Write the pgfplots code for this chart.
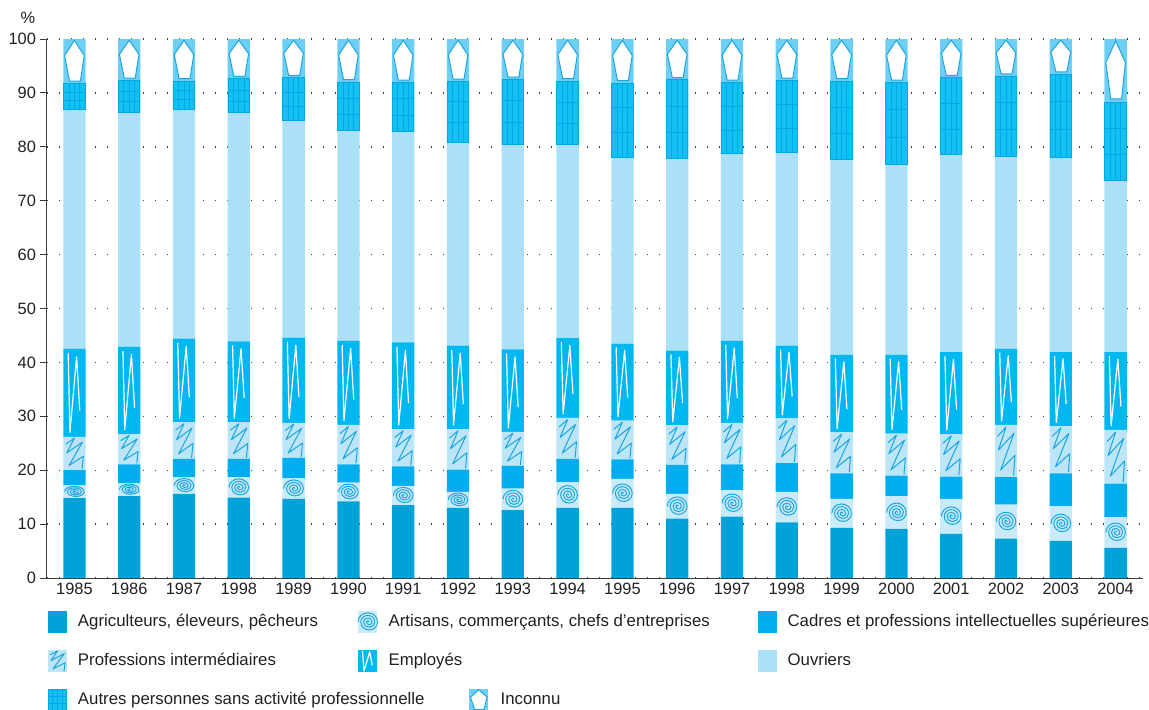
\documentclass[border=0pt]{standalone}
\usepackage{fontspec}
\setmainfont{Liberation Sans}
\usepackage{pgfplots}
\pgfplotsset{compat=1.18}
\usepackage{pgfplotstable}

\definecolor{agri}{HTML}{00A3D9}
\definecolor{artbg}{HTML}{C8EAF9}
\definecolor{cad}{HTML}{00AEEF}
\definecolor{profbg}{HTML}{BCE5F8}
\definecolor{emp}{HTML}{00B8F1}
\definecolor{ouv}{HTML}{ABE0F9}
\definecolor{aut}{HTML}{13C0F2}
\definecolor{gridc}{HTML}{00A8E6}
\definecolor{inc}{HTML}{6DCFF6}
\definecolor{iconblue}{HTML}{1BA6E2}
\definecolor{textc}{HTML}{231F20}
\definecolor{axisgray}{HTML}{3C3C3C}

\newdimen\barW \barW=11.15pt
\newdimen\segH
\newdimen\spx
\newdimen\spy
\def\setsegH{\pgfmathsetlength\segH{2.695*\segh}}

\pgfdeclareplotmark{spiral}{%
  \pgfscope
  \setsegH
  \spy=0.42\segH \ifdim\spy>4.7pt \spy=4.7pt\fi
  \divide\spy by 7
  \spx=0.7pt
  \pgfsetstrokecolor{iconblue}\pgfsetlinewidth{0.5pt}%
  \pgfpathmoveto{\pgfqpoint{\spx}{0pt}}%
  \pgfpatharc{0}{180}{1*\spx and 1*\spy}%
  \pgfpatharc{180}{360}{2*\spx and 2*\spy}%
  \pgfpatharc{0}{180}{3*\spx and 3*\spy}%
  \pgfpatharc{180}{360}{4*\spx and 4*\spy}%
  \pgfpatharc{0}{180}{5*\spx and 5*\spy}%
  \pgfpatharc{180}{360}{6*\spx and 6*\spy}%
  \pgfpatharc{0}{180}{7*\spx and 7*\spy}%
  \pgfusepathqstroke
  \endpgfscope}

\pgfdeclareplotmark{profzz}{%
  \pgfscope
  \setsegH
  \pgfsetstrokecolor{iconblue}\pgfsetlinewidth{0.5pt}\pgfsetroundjoin
  \pgfpathmoveto{\pgfqpoint{-0.38\barW}{0.28\segH}}%
  \pgfpathlineto{\pgfqpoint{0.0\barW}{0.46\segH}}%
  \pgfpathlineto{\pgfqpoint{-0.34\barW}{0.02\segH}}%
  \pgfpathlineto{\pgfqpoint{0.36\barW}{0.34\segH}}%
  \pgfpathlineto{\pgfqpoint{-0.24\barW}{-0.36\segH}}%
  \pgfpathlineto{\pgfqpoint{0.4\barW}{-0.08\segH}}%
  \pgfpathlineto{\pgfqpoint{0.34\barW}{-0.47\segH}}%
  \pgfusepathqstroke
  \endpgfscope}

\pgfdeclareplotmark{empzz}{%
  \pgfscope
  \setsegH
  \pgfsetstrokecolor{white}\pgfsetlinewidth{0.6pt}\pgfsetroundjoin
  \pgfpathmoveto{\pgfqpoint{-0.28\barW}{0.45\segH}}%
  \pgfpathlineto{\pgfqpoint{-0.2\barW}{-0.45\segH}}%
  \pgfpathlineto{\pgfqpoint{0.1\barW}{0.41\segH}}%
  \pgfpathlineto{\pgfqpoint{0.24\barW}{-0.2\segH}}%
  \pgfusepathqstroke
  \endpgfscope}

\pgfdeclareplotmark{grid4}{%
  \pgfscope
  \setsegH
  \pgfsetstrokecolor{gridc}\pgfsetlinewidth{0.5pt}%
  \pgfpathrectangle{\pgfqpoint{-0.48\barW}{-0.5\segH}}{\pgfqpoint{0.96\barW}{\segH}}%
  \pgfpathmoveto{\pgfqpoint{-0.24\barW}{-0.5\segH}}\pgfpathlineto{\pgfqpoint{-0.24\barW}{0.5\segH}}%
  \pgfpathmoveto{\pgfqpoint{0pt}{-0.5\segH}}\pgfpathlineto{\pgfqpoint{0pt}{0.5\segH}}%
  \pgfpathmoveto{\pgfqpoint{0.24\barW}{-0.5\segH}}\pgfpathlineto{\pgfqpoint{0.24\barW}{0.5\segH}}%
  \pgfpathmoveto{\pgfqpoint{-0.48\barW}{-0.1667\segH}}\pgfpathlineto{\pgfqpoint{0.48\barW}{-0.1667\segH}}%
  \pgfpathmoveto{\pgfqpoint{-0.48\barW}{0.1667\segH}}\pgfpathlineto{\pgfqpoint{0.48\barW}{0.1667\segH}}%
  \pgfusepathqstroke
  \endpgfscope}

\pgfdeclareplotmark{pent}{%
  \pgfscope
  \setsegH
  \pgfsetstrokecolor{iconblue}\pgfsetfillcolor{white}\pgfsetlinewidth{0.5pt}\pgfsetmiterjoin
  \pgfpathmoveto{\pgfqpoint{0pt}{0.47\segH}}%
  \pgfpathlineto{\pgfqpoint{0.44\barW}{0.13\segH}}%
  \pgfpathlineto{\pgfqpoint{0.27\barW}{-0.44\segH}}%
  \pgfpathlineto{\pgfqpoint{-0.22\barW}{-0.44\segH}}%
  \pgfpathlineto{\pgfqpoint{-0.44\barW}{0.13\segH}}%
  \pgfpathclose
  \pgfusepath{fill,stroke}%
  \endpgfscope}

\newcommand\legicon[1]{\begingroup\barW=9.5pt\def\segh{4.08}\pgftransformshift{\pgfqpoint{4.75pt}{0pt}}\pgfuseplotmark{#1}\endgroup}

\pgfplotstableread{
x year agri art cad prof emp ouv aut inc
0 1985 14.8 2.4 2.8 6.2 16.3 44.5 4.7 8.3
1 1986 15.2 2.4 3.5 5.6 16.2 43.5 5.9 7.7
2 1987 15.6 3.1 3.4 6.8 15.5 42.6 5.2 7.8
3 1998 14.9 3.8 3.4 6.8 15.0 42.5 6.2 7.4
4 1989 14.7 3.8 3.8 6.5 15.8 40.3 7.9 7.2
5 1990 14.2 3.5 3.4 7.3 15.6 39.1 8.9 8.0
6 1991 13.5 3.6 3.6 6.9 16.1 39.2 9.0 8.1
7 1992 13.0 3.0 4.1 7.5 15.5 37.7 11.3 7.9
8 1993 12.6 4.0 4.2 6.3 15.3 38.1 12.0 7.5
9 1994 13.0 4.8 4.3 7.6 14.8 36.0 11.7 7.8
10 1995 13.0 5.4 3.6 7.2 14.3 34.6 13.7 8.2
11 1996 11.0 4.6 5.4 7.3 13.9 35.7 14.5 7.6
12 1997 11.4 4.9 4.8 7.7 15.2 34.7 13.2 8.1
13 1998 10.3 5.7 5.3 8.3 13.5 35.8 13.4 7.7
14 1999 9.3 5.4 4.7 7.6 14.4 36.3 14.5 7.8
15 2000 9.1 6.1 3.8 7.8 14.6 35.3 15.2 8.1
16 2001 8.2 6.5 4.1 7.9 15.2 36.6 14.3 7.2
17 2002 7.3 6.3 5.1 9.7 14.1 35.7 14.9 6.9
18 2003 6.9 6.4 6.1 8.8 13.7 36.1 15.5 6.5
19 2004 5.6 5.7 6.2 10.0 14.4 31.8 14.5 11.8
}\data

\pgfplotsset{
  commonaxis/.style={
    at={(0pt,0pt)}, anchor=south west,
    scale only axis, width=548pt, height=269.5pt,
    xmin=-0.5, xmax=19.5, ymin=0, ymax=100,
  },
  iconmarks/.style={scatter, only marks, mark=#1,
    scatter/@pre marker code/.code={}, scatter/@post marker code/.code={}},
}

\begin{document}
\begin{tikzpicture}
\path[use as bounding box] (-23.5pt,-65.5pt) rectangle (551pt,289pt);
\begin{axis}[
  commonaxis,
  ybar stacked, bar width=11.15pt,
  axis x line*=bottom, axis y line*=left,
  axis line style={draw=axisgray, line width=0.5pt},
  xtick={0,...,19},
  xticklabels={1985,1986,1987,1998,1989,1990,1991,1992,1993,1994,1995,1996,1997,1998,1999,2000,2001,2002,2003,2004},
  xtick style={draw=none},
  ytick={0,10,...,100},
  ytick style={draw=axisgray, line width=0.5pt},
  tick align=outside, major tick length=3.5pt,
  ymajorgrids,
  major grid style={draw=black!75, line width=0.7pt, dash pattern=on 0.7pt off 5.3pt},
  tick label style={font=\fontsize{8.2}{9.8}\selectfont, text=textc},
  xticklabel style={yshift=4.5pt},
  yticklabel style={xshift=1.5pt},
  /pgf/number format/assume math mode=true,
  legend columns=3,
  legend cell align=left,
  legend style={at={(axis description cs:0,0)}, anchor=north west, xshift=0.5pt, yshift=-16.5pt,
    draw=none, fill=none, inner sep=0pt, outer sep=0pt,
    font=\fontsize{8.4}{10}\selectfont, text=textc,
    row sep=8.5pt, column sep=0pt,
    nodes={inner sep=0pt},
    /tikz/every odd column/.append style={column sep=5.5pt}},
]
\addplot[fill=agri, draw=none, legend image code/.code={\fill[agri] (0pt,-5.5pt) rectangle (9.5pt,5.5pt);}]
  table[x=x, y=agri]{\data};
\addlegendentry{\makebox[140pt][l]{Agriculteurs, éleveurs, pêcheurs}}
\addplot[fill=artbg, draw=none, legend image code/.code={\fill[artbg] (0pt,-5.5pt) rectangle (9.5pt,5.5pt); \legicon{spiral}}]
  table[x=x, y=art]{\data};
\addlegendentry{\makebox[184.5pt][l]{Artisans, commerçants, chefs d’entreprises}}
\addplot[fill=cad, draw=none, legend image code/.code={\fill[cad] (0pt,-5.5pt) rectangle (9.5pt,5.5pt);}]
  table[x=x, y=cad]{\data};
\addlegendentry{Cadres et professions intellectuelles supérieures}
\addplot[fill=profbg, draw=none, legend image code/.code={\fill[profbg] (0pt,-5.5pt) rectangle (9.5pt,5.5pt); \legicon{profzz}}]
  table[x=x, y=prof]{\data};
\addlegendentry{\makebox[140pt][l]{Professions intermédiaires}}
\addplot[fill=emp, draw=none, legend image code/.code={\fill[emp] (0pt,-5.5pt) rectangle (9.5pt,5.5pt); \legicon{empzz}}]
  table[x=x, y=emp]{\data};
\addlegendentry{\makebox[184.5pt][l]{Employés}}
\addplot[fill=ouv, draw=none, legend image code/.code={\fill[ouv] (0pt,-5.5pt) rectangle (9.5pt,5.5pt);}]
  table[x=x, y=ouv]{\data};
\addlegendentry{Ouvriers}
\addplot[fill=aut, draw=none, legend image code/.code={\fill[aut] (0pt,-5.5pt) rectangle (9.5pt,5.5pt); \legicon{grid4}}]
  table[x=x, y=aut]{\data};
\addlegendentry{\makebox[140pt][l]{Autres personnes sans activité professionnelle}}
\addplot[fill=inc, draw=none, legend image code/.code={\begin{scope}[overlay, xshift=55.5pt]\fill[inc] (0pt,-5.5pt) rectangle (9.5pt,5.5pt); \legicon{pent}\end{scope}}]
  table[x=x, y=inc]{\data};
\addlegendentry{\hspace*{56pt}Inconnu}
\end{axis}

\begin{axis}[commonaxis, hide axis, clip=false]
\addplot[iconmarks=spiral, visualization depends on={\thisrow{art} \as \segh}]
  table[x=x, y expr=\thisrow{agri}+0.5*\thisrow{art}]{\data};
\addplot[iconmarks=profzz, visualization depends on={\thisrow{prof} \as \segh}]
  table[x=x, y expr=\thisrow{agri}+\thisrow{art}+\thisrow{cad}+0.5*\thisrow{prof}]{\data};
\addplot[iconmarks=empzz, visualization depends on={\thisrow{emp} \as \segh}]
  table[x=x, y expr=\thisrow{agri}+\thisrow{art}+\thisrow{cad}+\thisrow{prof}+0.5*\thisrow{emp}]{\data};
\addplot[iconmarks=grid4, visualization depends on={\thisrow{aut} \as \segh}]
  table[x=x, y expr=\thisrow{agri}+\thisrow{art}+\thisrow{cad}+\thisrow{prof}+\thisrow{emp}+\thisrow{ouv}+0.5*\thisrow{aut}]{\data};
\addplot[iconmarks=pent, visualization depends on={\thisrow{inc} \as \segh}]
  table[x=x, y expr=100-0.5*\thisrow{inc}]{\data};
\end{axis}

\node[font=\fontsize{8.2}{9.8}\selectfont, text=textc] at (-9.5pt,280pt) {\%};
\end{tikzpicture}
\end{document}
